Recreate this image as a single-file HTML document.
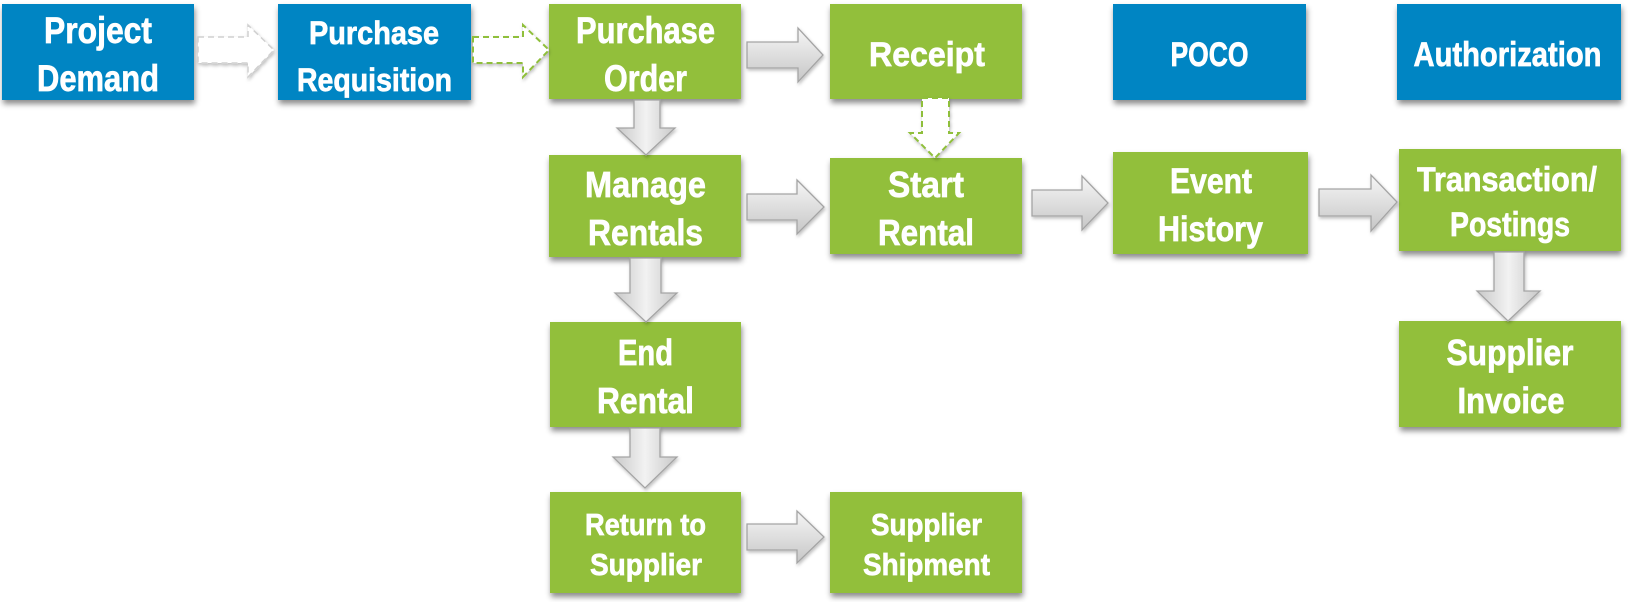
<!DOCTYPE html>
<html>
<head>
<meta charset="utf-8">
<style>
html,body{margin:0;padding:0;background:#fff;}
svg{display:block;}
text{font-family:"Liberation Sans",Arial,sans-serif;font-weight:bold;fill:#fff;stroke:#fff;stroke-width:0.7px;text-anchor:middle;}
</style>
</head>
<body>
<svg width="1628" height="602" viewBox="0 0 1628 602" xmlns="http://www.w3.org/2000/svg">
<defs>
  <filter id="sh" x="-10%" y="-10%" width="120%" height="130%">
    <feDropShadow dx="1" dy="4" stdDeviation="3" flood-color="#000" flood-opacity="0.45"/>
  </filter>
  <filter id="ash" x="-10%" y="-10%" width="130%" height="130%">
    <feDropShadow dx="1" dy="2" stdDeviation="1.5" flood-color="#000" flood-opacity="0.25"/>
  </filter>
  <linearGradient id="gv" x1="0" y1="0" x2="0" y2="1">
    <stop offset="0" stop-color="#f6f6f6"/>
    <stop offset="1" stop-color="#c6c6c6"/>
  </linearGradient>
  <linearGradient id="gh" x1="0" y1="0" x2="1" y2="0">
    <stop offset="0" stop-color="#c8c8c8"/>
    <stop offset="0.5" stop-color="#f2f2f2"/>
    <stop offset="1" stop-color="#c8c8c8"/>
  </linearGradient>
</defs>

<!-- Boxes -->
<g filter="url(#sh)">
  <rect x="2" y="4" width="192" height="96" fill="#0285C3"/>
  <rect x="278" y="4" width="193" height="96" fill="#0285C3"/>
  <rect x="549" y="4" width="192" height="95" fill="#92BF3B"/>
  <rect x="830" y="4" width="192" height="95" fill="#92BF3B"/>
  <rect x="1113" y="4" width="193" height="96" fill="#0285C3"/>
  <rect x="1397" y="4" width="224" height="96" fill="#0285C3"/>

  <rect x="549" y="155" width="192" height="102" fill="#92BF3B"/>
  <rect x="830" y="158" width="192" height="96" fill="#92BF3B"/>
  <rect x="1113" y="152" width="195" height="102" fill="#92BF3B"/>
  <rect x="1399" y="149" width="222" height="102" fill="#92BF3B"/>

  <rect x="550" y="322" width="191" height="105" fill="#92BF3B"/>
  <rect x="1399" y="321" width="222" height="106" fill="#92BF3B"/>

  <rect x="550" y="492" width="191" height="101" fill="#92BF3B"/>
  <rect x="830" y="492" width="192" height="101" fill="#92BF3B"/>
</g>

<!-- Dashed white arrows -->
<g filter="url(#ash)">
  <polygon points="198,37 248,37 248,25 274,50 248,77 248,63 198,63" fill="#fff" stroke="#d0d0d0" stroke-width="1.5" stroke-dasharray="6,4"/>
  <polygon points="473,37 523,37 523,25 549,50 523,77 523,63 473,63" fill="#fff" stroke="#8fbf3a" stroke-width="2" stroke-dasharray="6,4"/>
  <polygon points="922,98 949,98 949,133 959,133 935,158 910,133 922,133" fill="#fff" stroke="#8fbf3a" stroke-width="2" stroke-dasharray="6,4"/>
</g>

<!-- Gray arrows -->
<g filter="url(#ash)" stroke="#a4a4a4" stroke-width="1.3">
  <polygon points="747,42 798,42 798,28 823,55 798,82 798,68 747,68" fill="url(#gv)"/>
  <polygon points="747,194 797,194 797,180 824,207 797,234 797,220 747,220" fill="url(#gv)"/>
  <polygon points="747,524 797,524 797,511 824,537 797,563 797,550 747,550" fill="url(#gv)"/>
  <polygon points="1032,190 1082,190 1082,176 1108,203 1082,230 1082,216 1032,216" fill="url(#gv)"/>
  <polygon points="1319,189 1371,189 1371,175 1397,202 1371,231 1371,216 1319,216" fill="url(#gv)"/>

  <polygon points="634,100 660,100 660,128 675,128 646,155 617,128 634,128" fill="url(#gh)"/>
  <polygon points="630,258 661,258 661,293 677,293 646,322 615,293 630,293" fill="url(#gh)"/>
  <polygon points="630,428 660,428 660,457 677,457 645,488 613,457 630,457" fill="url(#gh)"/>
  <polygon points="1494,252 1524,252 1524,291 1540,291 1508,321 1477,291 1494,291" fill="url(#gh)"/>
</g>

<!-- Labels -->
<text x="98" y="43" font-size="37" textLength="108" lengthAdjust="spacingAndGlyphs">Project</text>
<text x="98" y="91" font-size="37" textLength="122" lengthAdjust="spacingAndGlyphs">Demand</text>

<text x="374" y="44" font-size="32" textLength="130" lengthAdjust="spacingAndGlyphs">Purchase</text>
<text x="374.5" y="91" font-size="32" textLength="155" lengthAdjust="spacingAndGlyphs">Requisition</text>

<text x="645.5" y="43" font-size="37" textLength="139" lengthAdjust="spacingAndGlyphs">Purchase</text>
<text x="645.5" y="91" font-size="37" textLength="83" lengthAdjust="spacingAndGlyphs">Order</text>

<text x="927" y="66" font-size="34" textLength="116" lengthAdjust="spacingAndGlyphs">Receipt</text>
<text x="1209.5" y="66" font-size="34" textLength="78" lengthAdjust="spacingAndGlyphs">POCO</text>
<text x="1507.5" y="66" font-size="34" textLength="188" lengthAdjust="spacingAndGlyphs">Authorization</text>

<text x="645.5" y="197" font-size="36" textLength="121" lengthAdjust="spacingAndGlyphs">Manage</text>
<text x="645.5" y="245" font-size="36" textLength="115" lengthAdjust="spacingAndGlyphs">Rentals</text>

<text x="926" y="197" font-size="36" textLength="76" lengthAdjust="spacingAndGlyphs">Start</text>
<text x="926" y="245" font-size="36" textLength="96" lengthAdjust="spacingAndGlyphs">Rental</text>

<text x="1211" y="193" font-size="35" textLength="82" lengthAdjust="spacingAndGlyphs">Event</text>
<text x="1210.5" y="241" font-size="35" textLength="105" lengthAdjust="spacingAndGlyphs">History</text>

<text x="1507" y="191" font-size="34" textLength="180" lengthAdjust="spacingAndGlyphs">Transaction/</text>
<text x="1510" y="236" font-size="34" textLength="120" lengthAdjust="spacingAndGlyphs">Postings</text>

<text x="645.5" y="365" font-size="36" textLength="55" lengthAdjust="spacingAndGlyphs">End</text>
<text x="645.5" y="413" font-size="36" textLength="97" lengthAdjust="spacingAndGlyphs">Rental</text>

<text x="1510" y="365" font-size="36" textLength="127" lengthAdjust="spacingAndGlyphs">Supplier</text>
<text x="1511" y="413" font-size="36" textLength="107" lengthAdjust="spacingAndGlyphs">Invoice</text>

<text x="645.5" y="535" font-size="31" textLength="121" lengthAdjust="spacingAndGlyphs">Return to</text>
<text x="646" y="575" font-size="31" textLength="112" lengthAdjust="spacingAndGlyphs">Supplier</text>

<text x="926.5" y="535" font-size="31" textLength="111" lengthAdjust="spacingAndGlyphs">Supplier</text>
<text x="926.5" y="575" font-size="31" textLength="127" lengthAdjust="spacingAndGlyphs">Shipment</text>
</svg>
</body>
</html>
